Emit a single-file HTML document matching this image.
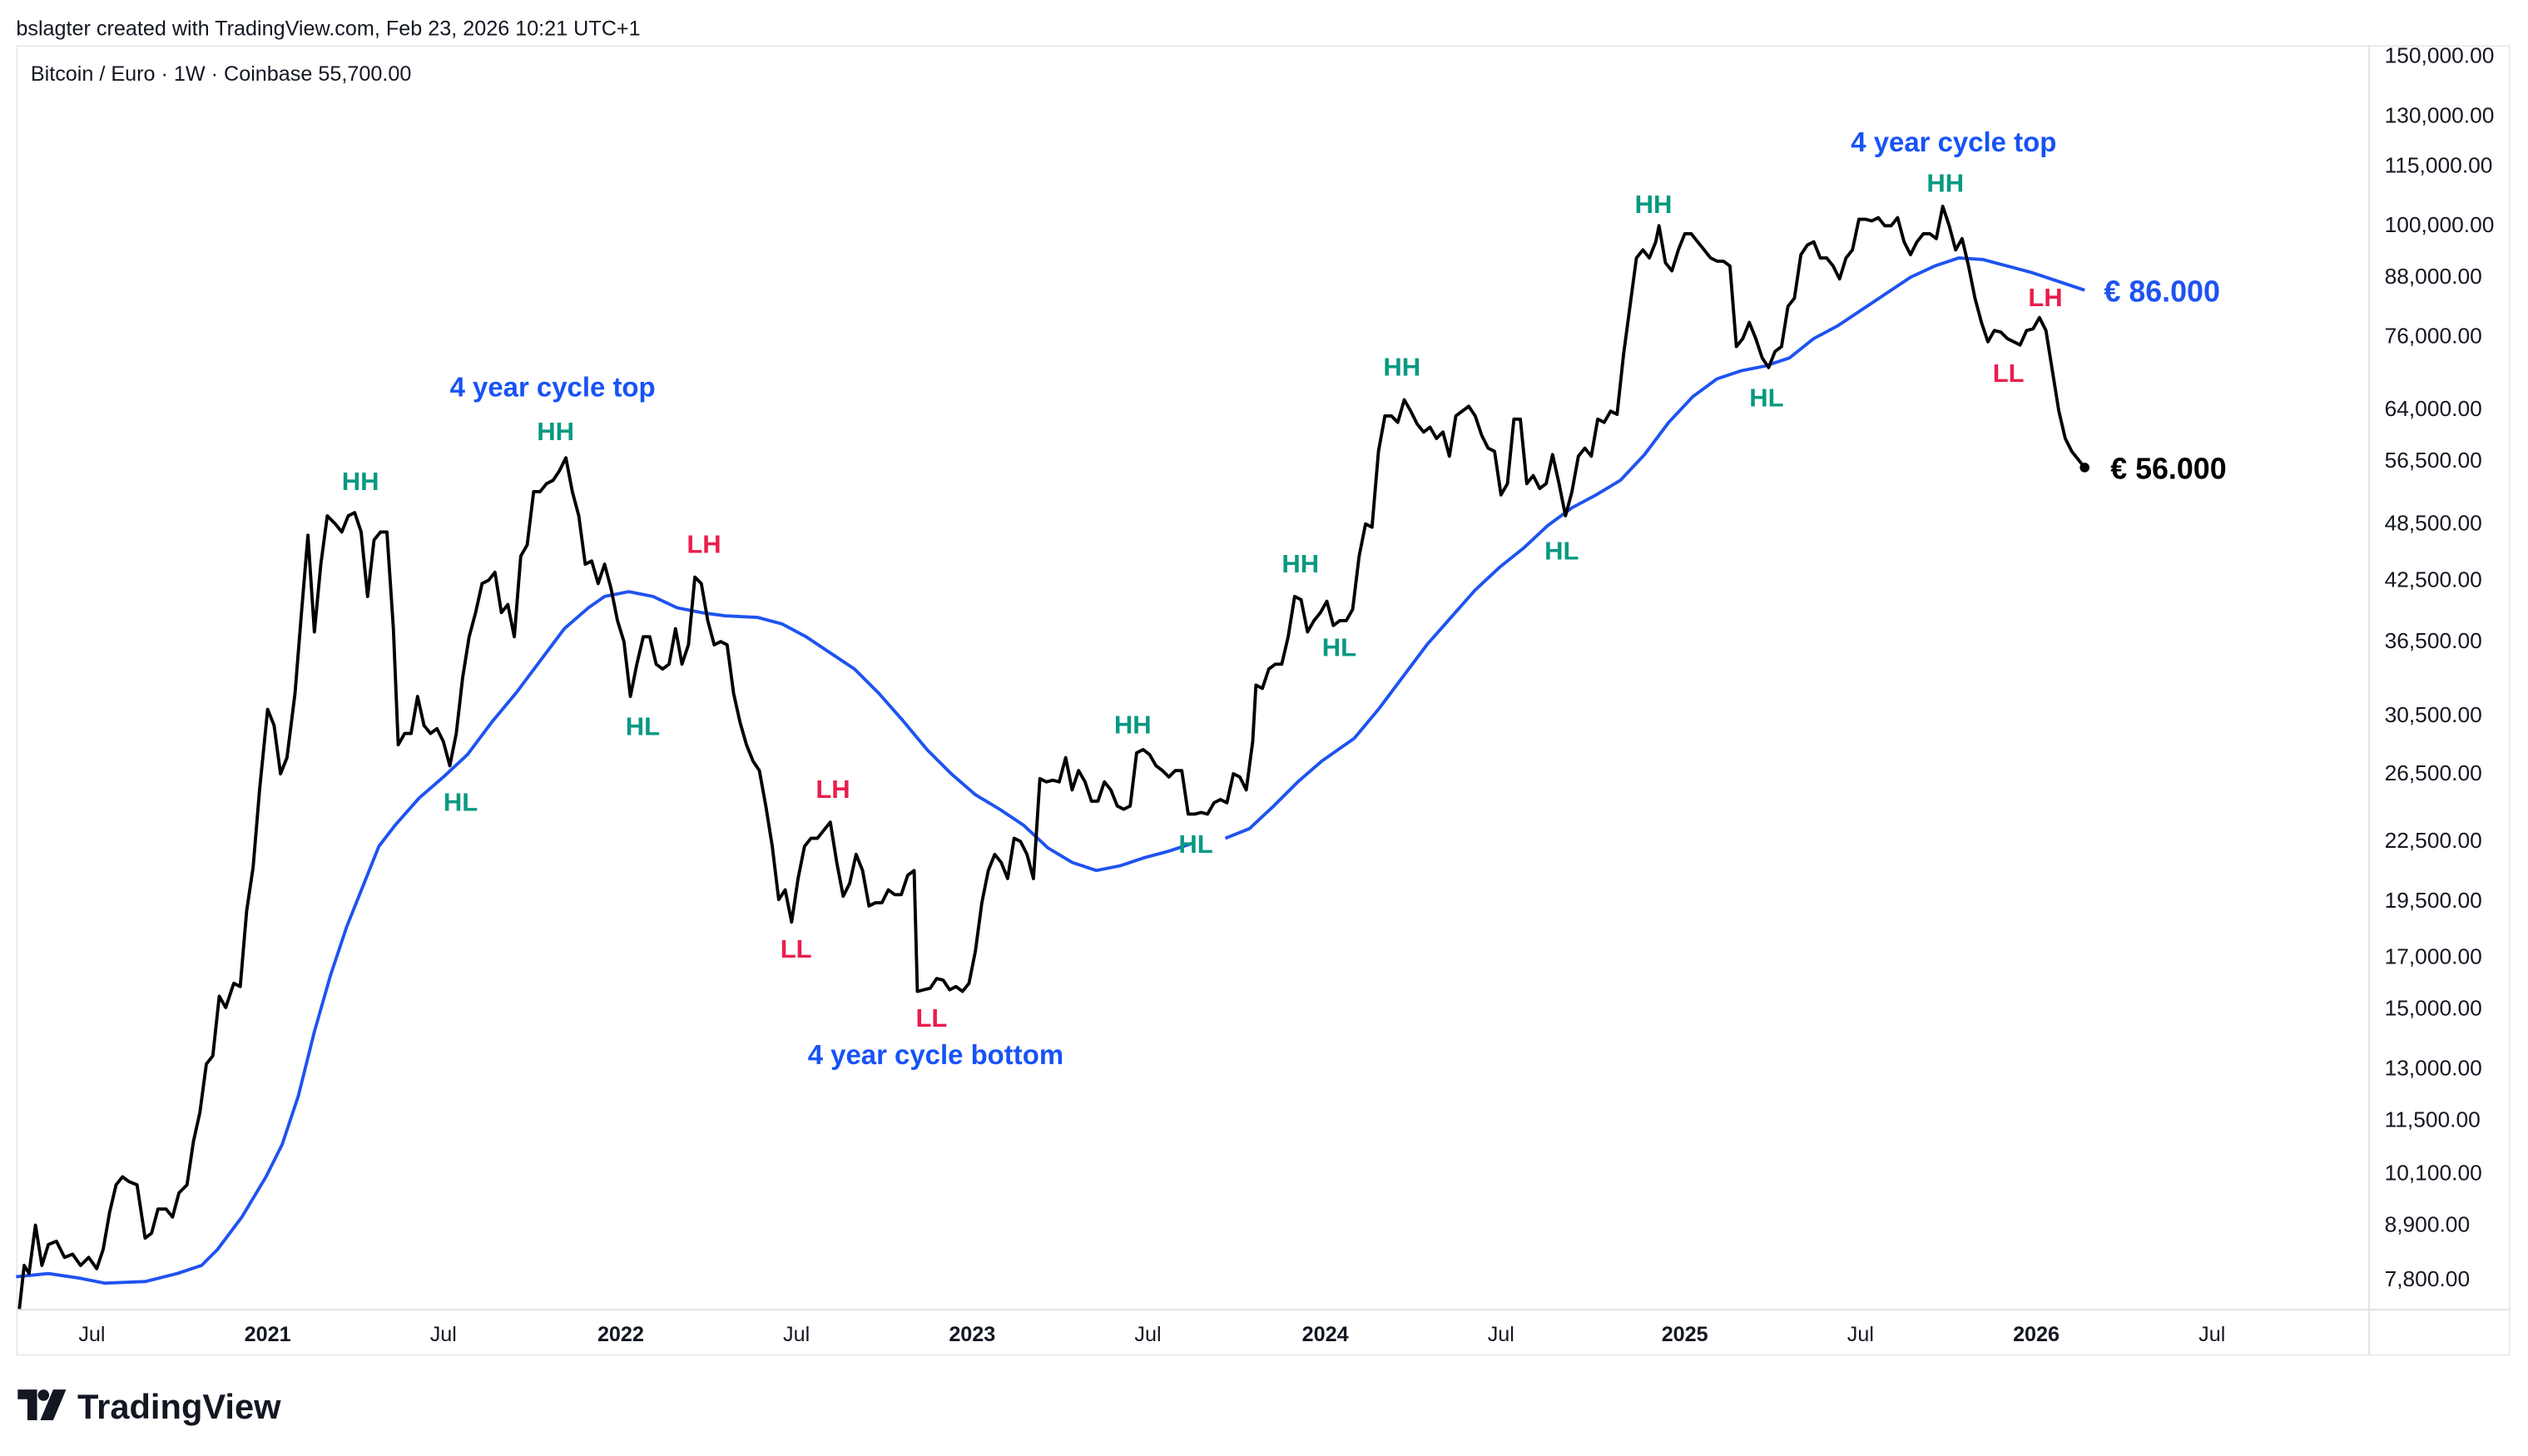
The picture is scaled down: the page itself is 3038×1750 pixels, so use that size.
<!DOCTYPE html>
<html><head><meta charset="utf-8"><style>
html,body{margin:0;padding:0;background:#fff;}
svg{display:block;font-family:"Liberation Sans",sans-serif;}
.g{fill:#089981;font-weight:bold;font-size:16px;}
.r{fill:#e91e4d;font-weight:bold;font-size:16px;}
.b{fill:#1753f5;font-weight:bold;font-size:17px;}
.ax{font-size:13.6px;fill:#131722;}
.xl{font-size:13px;fill:#131722;text-anchor:middle;}
</style></head><body>
<svg width="3038" height="1750" viewBox="0 0 1568 903.2" xmlns="http://www.w3.org/2000/svg">
<rect width="1568" height="904" fill="#fff"/>
<text x="10" y="22" font-size="13" fill="#131722">bslagter created with TradingView.com, Feb 23, 2026 10:21 UTC+1</text>
<rect x="10.5" y="28.5" width="1546" height="812" fill="none" stroke="#e9eaee"/>
<line x1="1469.5" y1="28" x2="1469.5" y2="840" stroke="#e0e1e5"/>
<line x1="10" y1="812.5" x2="1557" y2="812.5" stroke="#e0e1e5"/>
<text x="19" y="50" font-size="13" fill="#131722">Bitcoin / Euro · 1W · Coinbase  55,700.00</text>
<g class="ax">
<text x="1479" y="39">150,000.00</text><text x="1479" y="76">130,000.00</text><text x="1479" y="107">115,000.00</text><text x="1479" y="144">100,000.00</text>
<text x="1479" y="176">88,000.00</text><text x="1479" y="213">76,000.00</text><text x="1479" y="258">64,000.00</text><text x="1479" y="290">56,500.00</text>
<text x="1479" y="329">48,500.00</text><text x="1479" y="364">42,500.00</text><text x="1479" y="402">36,500.00</text><text x="1479" y="448">30,500.00</text>
<text x="1479" y="484">26,500.00</text><text x="1479" y="526">22,500.00</text><text x="1479" y="563">19,500.00</text><text x="1479" y="598">17,000.00</text>
<text x="1479" y="630">15,000.00</text><text x="1479" y="667">13,000.00</text><text x="1479" y="699">11,500.00</text><text x="1479" y="732">10,100.00</text>
<text x="1479" y="764">8,900.00</text><text x="1479" y="798">7,800.00</text>
</g>
<g class="xl">
<text x="57" y="832">Jul</text><text x="166" y="832" font-weight="bold">2021</text><text x="275" y="832">Jul</text>
<text x="385" y="832" font-weight="bold">2022</text><text x="494" y="832">Jul</text><text x="603" y="832" font-weight="bold">2023</text>
<text x="712" y="832">Jul</text><text x="822" y="832" font-weight="bold">2024</text><text x="931" y="832">Jul</text>
<text x="1045" y="832" font-weight="bold">2025</text><text x="1154" y="832">Jul</text><text x="1263" y="832" font-weight="bold">2026</text>
<text x="1372" y="832">Jul</text>
</g>
<polyline fill="none" stroke="#1e53f0" stroke-width="2" stroke-linejoin="round" points="10,792 30,790 50,793 65,796 90,795 110,790 125,785 135,775 150,755 165,730 175,710 185,680 195,640 205,605 215,575 225,550 235,525 245,512 260,495 275,482 290,468 305,448 320,430 335,410 350,390 365,377 375,370 390,367 405,370 420,377 435,380 450,382 470,383 485,387 500,395 515,405 530,415 545,430 560,447 575,465 590,480 605,493 620,502 635,512 650,526 665,535 680,540 695,537 710,532 725,528 740,523"/>
<polyline fill="none" stroke="#1e53f0" stroke-width="2" stroke-linejoin="round" points="760,520 775,514 790,500 805,485 820,472 840,458 855,440 870,420 885,400 900,383 915,366 930,352 945,340 960,326 975,315 990,307 1005,298 1020,282 1035,262 1050,246 1065,235 1080,230 1095,227 1110,222 1125,210 1140,202 1155,192 1170,182 1185,172 1200,165 1215,160 1230,161 1245,165 1260,169 1275,174 1293,180"/>
<polyline fill="none" stroke="#000" stroke-width="2" stroke-linejoin="round" points="12,812 15,785 18,790 22,760 26,785 30,772 35,770 40,780 45,778 50,785 55,780 60,787 64,775 68,752 72,735 76,730 80,733 85,735 90,768 94,765 98,750 103,750 107,755 111,740 116,735 120,708 124,690 128,660 132,655 136,618 140,625 145,610 149,612 153,565 157,538 161,490 166,440 170,450 174,480 178,470 183,430 187,380 191,332 195,392 199,350 203,320 208,325 212,330 216,320 220,318 224,330 228,370 232,335 236,330 240,330 244,390 247,462 251,455 255,455 259,432 263,450 267,455 271,452 275,460 279,475 283,455 287,420 291,395 295,380 299,362 303,360 307,355 311,380 315,375 319,395 323,345 327,338 331,305 335,305 339,300 343,298 347,292 351,284 355,305 359,320 363,350 367,348 371,362 375,350 379,365 383,385 387,398 391,432 395,412 399,395 403,395 407,412 411,415 415,412 419,390 423,412 427,400 431,358 435,362 439,385 443,400 447,398 451,400 455,430 459,448 463,462 467,472 471,478 475,500 479,525 483,558 487,552 491,572 495,545 499,525 503,520 507,520 511,515 515,510 519,535 523,556 527,548 531,530 535,540 539,562 543,560 547,560 551,552 555,555 559,555 563,543 567,540 569,615 573,614 577,613 581,607 585,608 589,614 593,612 597,615 601,610 605,590 609,560 613,540 617,530 621,535 625,545 629,520 633,522 637,530 641,545 645,483 649,485 653,484 657,485 661,470 665,490 669,478 673,485 677,497 681,497 685,485 689,490 693,500 697,502 701,500 705,467 709,465 713,468 717,475 721,478 725,482 729,478 733,478 737,505 741,505 745,504 749,505 753,498 757,496 761,498 765,480 769,482 773,490 777,460 779,425 783,427 787,415 791,412 795,412 799,395 803,370 807,372 811,392 815,385 819,380 823,373 827,388 831,385 835,385 839,378 843,345 847,325 851,327 855,280 859,258 863,258 867,262 871,248 875,255 879,263 883,268 887,265 891,272 895,268 899,283 903,258 907,255 911,252 915,258 919,270 923,278 927,280 931,307 935,300 939,260 943,260 947,300 951,295 955,303 959,300 963,282 967,300 971,320 975,305 979,283 983,278 987,283 991,260 995,262 999,255 1003,257 1007,220 1011,190 1015,160 1019,155 1023,160 1027,150 1029,140 1033,163 1037,168 1041,155 1045,145 1049,145 1053,150 1057,155 1061,160 1065,162 1069,162 1073,165 1077,215 1081,210 1085,200 1089,210 1093,222 1097,228 1101,218 1105,215 1109,190 1113,185 1117,158 1121,152 1125,150 1129,160 1133,160 1137,165 1141,173 1145,160 1149,155 1153,136 1157,136 1161,137 1165,135 1169,140 1173,140 1177,135 1181,150 1185,158 1189,150 1193,145 1197,145 1201,148 1205,128 1209,140 1213,155 1217,148 1221,165 1225,185 1229,200 1233,212 1237,205 1241,206 1245,210 1249,212 1253,214 1257,205 1261,204 1265,197 1269,205 1273,230 1277,255 1281,272 1285,280 1289,285 1293,290"/>
<circle cx="1293" cy="290" r="3" fill="#000"/>
<text x="1309" y="297" font-size="18.5" font-weight="bold" fill="#000">€ 56.000</text>
<text x="1305" y="187" font-size="18.5" font-weight="bold" fill="#1e53f0">€ 86.000</text>
<text class="b" x="279" y="246">4 year cycle top</text>
<text class="b" x="1148" y="94">4 year cycle top</text>
<text class="b" x="501" y="660">4 year cycle bottom</text>
<text class="g" x="212" y="304">HH</text><text class="g" x="333" y="273">HH</text><text class="g" x="795" y="355">HH</text>
<text class="g" x="858" y="233">HH</text><text class="g" x="1014" y="132">HH</text><text class="g" x="1195" y="119">HH</text>
<text class="g" x="691" y="455">HH</text>
<text class="g" x="275" y="503">HL</text><text class="g" x="388" y="456">HL</text><text class="g" x="820" y="407">HL</text>
<text class="g" x="731" y="529">HL</text><text class="g" x="958" y="347">HL</text><text class="g" x="1085" y="252">HL</text>
<text class="r" x="426" y="343">LH</text><text class="r" x="506" y="495">LH</text><text class="r" x="1258" y="190">LH</text>
<text class="r" x="484" y="594">LL</text><text class="r" x="568" y="637">LL</text><text class="r" x="1236" y="237">LL</text>
<g transform="translate(11,862)" fill="#131722">
<path d="M0 0 H12 V19 H6 V6 H0 Z"/><circle cx="16" cy="3.5" r="3.5"/><path d="M22 0 H30 L22 19 H14 Z"/>
</g>
<text x="48" y="880" font-size="21.5" font-weight="bold" fill="#131722">TradingView</text>
</svg>
</body></html>
